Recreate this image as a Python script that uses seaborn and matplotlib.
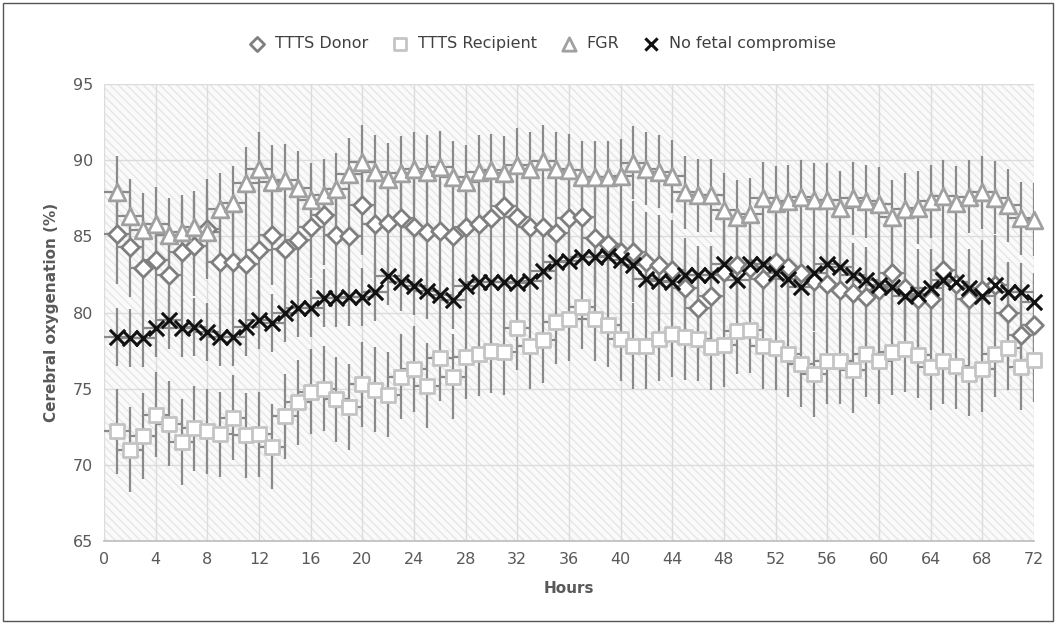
import numpy as np
import pandas as pd
import matplotlib.pyplot as plt
import seaborn as sns
from matplotlib.patches import Rectangle

# datos (hora 1..72)
hours = np.arange(1, 73)

donor = [85.15, 84.3, 82.95, 83.45, 82.5, 84.0, 84.4, 85.5, 83.3, 83.3, 83.2, 84.1,
         85.1, 84.2, 84.8, 85.6, 86.4, 85.1, 85.0, 87.1, 85.85, 85.9, 86.2, 85.6,
         85.3, 85.35, 85.0, 85.6, 85.8, 86.2, 87.0, 86.25, 85.6, 85.6, 85.2, 86.2,
         86.3, 84.9, 84.5, 84.0, 84.0, 83.3, 83.1, 82.8, 81.6, 80.3, 81.1, 82.7,
         83.1, 82.9, 82.2, 83.3, 83.0, 82.6, 82.1, 81.9, 81.5, 81.3, 81.0, 81.5,
         82.6, 81.6, 80.9, 80.9, 82.8, 81.9, 80.9, 81.5, 81.8, 80.0, 78.5, 79.2]

recipient = [72.2, 71.0, 71.9, 73.3, 72.7, 71.5, 72.4, 72.2, 72.0, 73.1, 71.95, 72.0,
             71.2, 73.2, 74.1, 74.8, 75.0, 74.3, 73.8, 75.3, 74.95, 74.6, 75.8, 76.3,
             75.2, 77.0, 75.8, 77.1, 77.3, 77.5, 77.4, 79.0, 77.8, 78.2, 79.4, 79.6,
             80.4, 79.6, 79.2, 78.3, 77.8, 77.8, 78.3, 78.6, 78.4, 78.3, 77.75, 77.9,
             78.8, 78.85, 77.8, 77.7, 77.25, 76.6, 75.95, 76.8, 76.8, 76.2, 77.25, 76.8,
             77.4, 77.6, 77.2, 76.4, 76.8, 76.5, 76.0, 76.3, 77.25, 77.7, 76.4, 76.9]

fgr = [87.9, 86.35, 85.45, 85.85, 85.1, 85.3, 85.6, 85.3, 86.8, 87.2, 88.5, 89.45,
       88.6, 88.7, 88.2, 87.4, 87.7, 88.1, 89.1, 89.9, 89.25, 88.75, 89.2, 89.45,
       89.25, 89.55, 88.9, 88.6, 89.25, 89.35, 89.2, 89.7, 89.45, 89.95, 89.45, 89.35,
       88.9, 88.9, 88.9, 89.0, 89.85, 89.45, 89.25, 88.95, 87.9, 87.7, 87.7, 86.75,
       86.3, 86.45, 87.5, 87.2, 87.3, 87.6, 87.4, 87.4, 86.9, 87.5, 87.3, 87.15,
       86.3, 86.8, 86.9, 87.3, 87.65, 87.2, 87.6, 87.9, 87.55, 87.05, 86.2, 86.1]

no_comp = [78.4, 78.35, 78.35, 79.0, 79.5, 79.0, 79.05, 78.75, 78.4, 78.4, 79.05, 79.5,
           79.3, 80.0, 80.3, 80.3, 80.95, 80.95, 81.0, 81.05, 81.35, 82.4, 82.0, 81.75,
           81.45, 81.15, 80.8, 81.75, 82.0, 82.0, 82.0, 81.95, 82.1, 82.75, 83.3, 83.4,
           83.65, 83.65, 83.7, 83.45, 83.1, 82.2, 82.1, 82.0, 82.5, 82.5, 82.5, 83.2,
           82.15, 83.2, 83.2, 82.6, 82.2, 81.7, 82.6, 83.2, 83.0, 82.45, 82.15, 81.8,
           81.7, 81.1, 81.25, 81.6, 82.15, 82.0, 81.6, 81.1, 81.8, 81.35, 81.35, 80.7]

# desviaciones aproximadas (barras de error)
err_donor = 3.3
err_recipient = 2.8
err_fgr = 2.4
err_no_comp = 1.9

sns.set_theme(style="white")
plt.rcParams['font.family'] = ['DejaVu Sans']

fig = plt.figure(figsize=(10.56, 6.24), dpi=100)
ax = fig.add_axes([0.0985, 0.133, 0.8805, 0.732])

# fondo rayado
ax.add_patch(Rectangle((0, 65), 72, 30, facecolor="#fafafa", edgecolor="#e6e6e6",
                       hatch="\\\\\\\\", lw=0, zorder=0))

series = [
    ("TTTS Donor", donor, err_donor, "D", "#7f7f7f", 9),
    ("TTTS Recipient", recipient, err_recipient, "s", "#c4c4c4", 10),
    ("FGR", fgr, err_fgr, "^", "#a0a0a0", 12),
    ("No fetal compromise", no_comp, err_no_comp, "x", "#111111", 11),
]

for i, (name, vals, e, mk, col, ms) in enumerate(series):
    ax.errorbar(hours, vals, yerr=e, xerr=1, fmt="none", ecolor="#8a8a8a",
                elinewidth=1.6, capsize=0, zorder=2 + i)

for i, (name, vals, e, mk, col, ms) in enumerate(series):
    df = pd.DataFrame({"hour": hours, "value": vals})
    if mk == "x":
        sns.scatterplot(data=df, x="hour", y="value", marker="x", color=col,
                        s=ms ** 2, linewidth=2.2, ax=ax, label=name, zorder=10,
                        clip_on=False)
    else:
        sns.scatterplot(data=df, x="hour", y="value", marker=mk, facecolor="white",
                        edgecolor=col, s=ms ** 2, linewidth=2.0, ax=ax, label=name,
                        zorder=6 + i, clip_on=False)

ax.set_xlim(0, 72)
ax.set_ylim(65, 95)
ax.set_xticks(range(0, 73, 4))
ax.set_yticks(range(65, 96, 5))
ax.grid(True, color="#dcdcdc", lw=1)
ax.set_axisbelow(True)
for s in ["top", "right", "left"]:
    ax.spines[s].set_visible(False)
ax.spines["bottom"].set_color("#bfbfbf")
ax.tick_params(axis="both", length=0, labelsize=11.5, labelcolor="#595959", pad=8)

ax.set_xlabel("Hours", fontsize=11, fontweight="bold", color="#595959", labelpad=10)
ax.set_ylabel("Cerebral oxygenation (%)", fontsize=11, fontweight="bold",
              color="#595959", labelpad=10)

handles, labels = ax.get_legend_handles_labels()
ax.legend_.remove()
fig.legend(handles, labels, loc="center", bbox_to_anchor=(0.51, 0.93), ncol=4,
           frameon=False, fontsize=11.5, handletextpad=0.1, columnspacing=1.0,
           markerscale=0.8, labelcolor="#404040")

# borde de la figura
fig.patches.append(Rectangle((0.003, 0.005), 0.994, 0.99, transform=fig.transFigure,
                             fill=False, edgecolor="#555555", lw=1))

fig.savefig("out.png", dpi=100)
